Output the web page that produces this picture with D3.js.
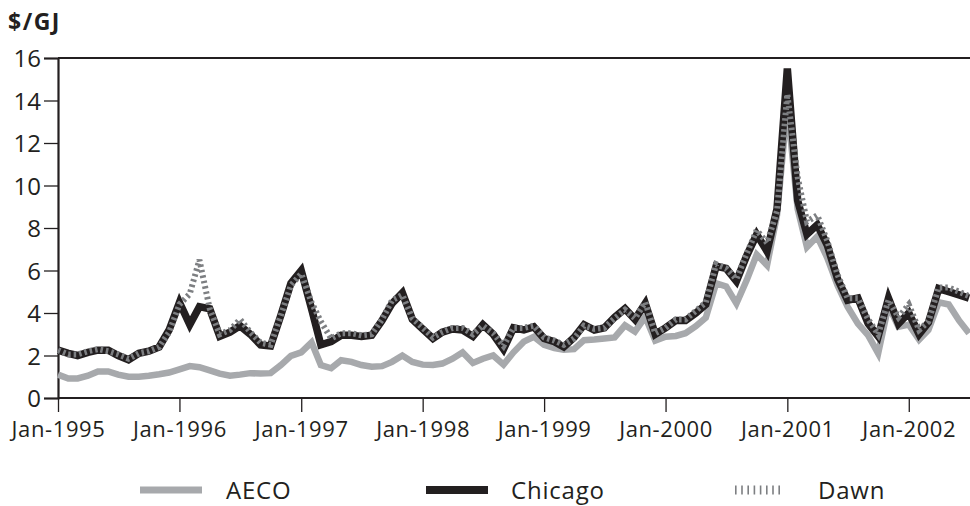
<!DOCTYPE html>
<html>
<head>
<meta charset="utf-8">
<script src="https://cdn.jsdelivr.net/npm/d3@7"></script>
<style>
  html, body { margin: 0; padding: 0; background: #fff; }
  svg { display: block; }
  text { font-family: "Open Sans", "Noto Sans", sans-serif; fill: #231f20; }
</style>
</head>
<body>
<svg id="chart" width="970" height="506"></svg>
<script>
// Monthly prices, Jan 1995 .. Jul 2002 ($/GJ)
const startMonth = "1995-01";
const endMonth = "2002-07";
const seriesNames = ["AECO", "Chicago", "Dawn"];
const aeco = [
  1.1, 0.92, 0.92, 1.05, 1.25, 1.25, 1.1, 1.0, 1.0, 1.05, 1.12, 1.2,
  1.35, 1.5, 1.45, 1.3, 1.15, 1.05, 1.1, 1.17, 1.15, 1.17, 1.55, 1.98,
  2.15, 2.62, 1.55, 1.4, 1.78, 1.7, 1.55, 1.47, 1.5, 1.7, 2.0, 1.7,
  1.57, 1.55, 1.62, 1.85, 2.15, 1.65, 1.85, 2.0, 1.57, 2.15, 2.65, 2.88,
  2.5, 2.35, 2.27, 2.3, 2.72, 2.75, 2.8, 2.85, 3.42, 3.12, 3.82, 2.7,
  2.88, 2.92, 3.05, 3.38, 3.78, 5.4, 5.25, 4.45, 5.55, 6.75, 6.25, 8.6,
  13.8, 8.9, 7.1, 7.6, 6.6, 5.3, 4.3, 3.5, 2.95, 2.1, 4.35, 3.35,
  3.45, 2.75, 3.2, 4.5, 4.4, 3.65, 3.05
];
const chicago = [
  2.25, 2.1, 2.0, 2.15, 2.25, 2.25, 2.0, 1.8, 2.1, 2.2, 2.4, 3.2,
  4.5, 3.45, 4.3, 4.2, 2.9, 3.1, 3.4, 3.0, 2.5, 2.45, 3.9, 5.4,
  6.0, 4.2, 2.5, 2.65, 2.95, 2.95, 2.9, 2.95, 3.65, 4.45, 4.95, 3.7,
  3.25, 2.8, 3.1, 3.25, 3.2, 2.9, 3.45, 3.0, 2.3, 3.3, 3.2, 3.35,
  2.8, 2.65, 2.4, 2.85, 3.45, 3.2, 3.3, 3.8, 4.2, 3.7, 4.45, 3.0,
  3.3, 3.65, 3.65, 4.0, 4.4, 6.2, 6.1, 5.5, 6.7, 7.7, 6.9, 8.9,
  15.5, 9.3, 7.7, 8.15, 7.2, 5.6, 4.6, 4.7, 3.5, 2.9, 4.7, 3.5,
  4.0, 3.0, 3.55, 5.15, 5.0, 4.85, 4.7
];
const dawn = [
  2.25, 2.05, 2.05, 2.2, 2.3, 2.2, 2.05, 1.85, 2.1, 2.2, 2.4, 3.1,
  4.4, 4.9, 6.5, 4.2, 3.0, 3.2, 3.7, 3.1, 2.6, 2.5, 3.9, 5.3,
  5.85, 4.5, 3.6, 2.8, 3.05, 3.05, 2.95, 3.0, 3.7, 4.6, 4.85, 3.75,
  3.3, 2.85, 3.1, 3.3, 3.3, 3.0, 3.4, 3.05, 2.45, 3.3, 3.3, 3.4,
  2.85, 2.7, 2.5, 2.8, 3.4, 3.25, 3.3, 3.75, 4.15, 3.75, 4.5, 3.05,
  3.3, 3.7, 3.7, 4.1, 4.5, 6.3, 6.1, 5.6, 6.8, 7.9, 7.3, 8.8,
  14.3, 10.4, 8.3, 8.6, 7.4, 5.8, 4.7, 4.7, 3.7, 3.0, 4.6, 3.8,
  4.4, 3.2, 3.6, 5.2, 5.2, 5.0, 4.8
];
const yTicks = [0, 2, 4, 6, 8, 10, 12, 14, 16];
const xTickYears = [1995, 1996, 1997, 1998, 1999, 2000, 2001, 2002];
const yTitle = "$/GJ";

const parseM = d3.timeParse("%Y-%m");
const months = d3.timeMonth.range(parseM(startMonth), d3.timeMonth.offset(parseM(endMonth), 1));

const svg = d3.select("#chart");
const pL = 58, pR = 969, pT = 58, pB = 398;

const x = d3.scaleTime().domain([months[0], months[months.length - 1]]).range([pL, pR]);
const y = d3.scaleLinear().domain([0, 16]).range([pB, pT]);

// top border
svg.append("line").attr("x1", pL).attr("x2", 970).attr("y1", pT).attr("y2", pT)
  .attr("stroke", "#231f20").attr("stroke-width", 2);

// y axis
const yAxis = svg.append("g").attr("transform", `translate(${pL},0)`)
  .call(d3.axisLeft(y).tickValues(yTicks).tickSize(14).tickPadding(3).tickFormat(d3.format("d")));
yAxis.select(".domain").attr("stroke", "#231f20").attr("stroke-width", 2.2);
yAxis.selectAll(".tick line").attr("stroke", "#231f20").attr("stroke-width", 1.3);
yAxis.selectAll(".tick text").attr("font-size", 24).attr("font-family", "'Open Sans', sans-serif")
  .attr("fill", "#231f20").attr("dy", "0.36em");

// x axis
const xAxis = svg.append("g").attr("transform", `translate(0,${pB})`)
  .call(d3.axisBottom(x).tickValues(xTickYears.map(yr => new Date(yr, 0, 1)))
    .tickSize(14).tickPadding(9).tickFormat(d3.timeFormat("%b-%Y")));
xAxis.select(".domain").attr("stroke", "#231f20").attr("stroke-width", 2.2)
  .attr("d", `M${pL},0H970`);
xAxis.selectAll(".tick line").attr("stroke", "#231f20").attr("stroke-width", 1.3);
xAxis.selectAll(".tick text").attr("font-size", 22).attr("letter-spacing", 0.6)
  .attr("font-family", "'Open Sans', sans-serif").attr("fill", "#231f20");

// title
svg.append("text").attr("x", 8).attr("y", 30).attr("font-size", 23).attr("font-weight", "bold")
  .attr("letter-spacing", 1.5).text(yTitle);

const line = d3.line().x((d, i) => x(months[i])).y(d => y(d));

svg.append("path").datum(aeco).attr("d", line).attr("fill", "none")
  .attr("stroke", "#a7a9ac").attr("stroke-width", 6.5).attr("stroke-linejoin", "miter");
svg.append("path").datum(chicago).attr("d", line).attr("fill", "none")
  .attr("stroke", "#231f20").attr("stroke-width", 7.5).attr("stroke-linejoin", "miter");
svg.append("path").datum(dawn).attr("d", line).attr("fill", "none")
  .attr("stroke", "#7d7f82").attr("stroke-width", 6).attr("stroke-dasharray", "2.5,3");

// legend
const legend = [
  { name: seriesNames[0], x1: 140, x2: 202, tx: 226, color: "#a7a9ac", w: 7, dash: null },
  { name: seriesNames[1], x1: 426, x2: 488, tx: 511, color: "#231f20", w: 8, dash: null },
  { name: seriesNames[2], x1: 735, x2: 780, tx: 818, color: "#7d7f82", w: 9, dash: "1.6,4.6" }
];
const lg = svg.append("g");
legend.forEach(l => {
  lg.append("line").attr("x1", l.x1).attr("x2", l.x2).attr("y1", 490).attr("y2", 490)
    .attr("stroke", l.color).attr("stroke-width", l.w).attr("stroke-dasharray", l.dash);
  lg.append("text").attr("x", l.tx).attr("y", 499).attr("font-size", 24)
    .attr("letter-spacing", 0.8).text(l.name);
});
</script>
</body>
</html>
